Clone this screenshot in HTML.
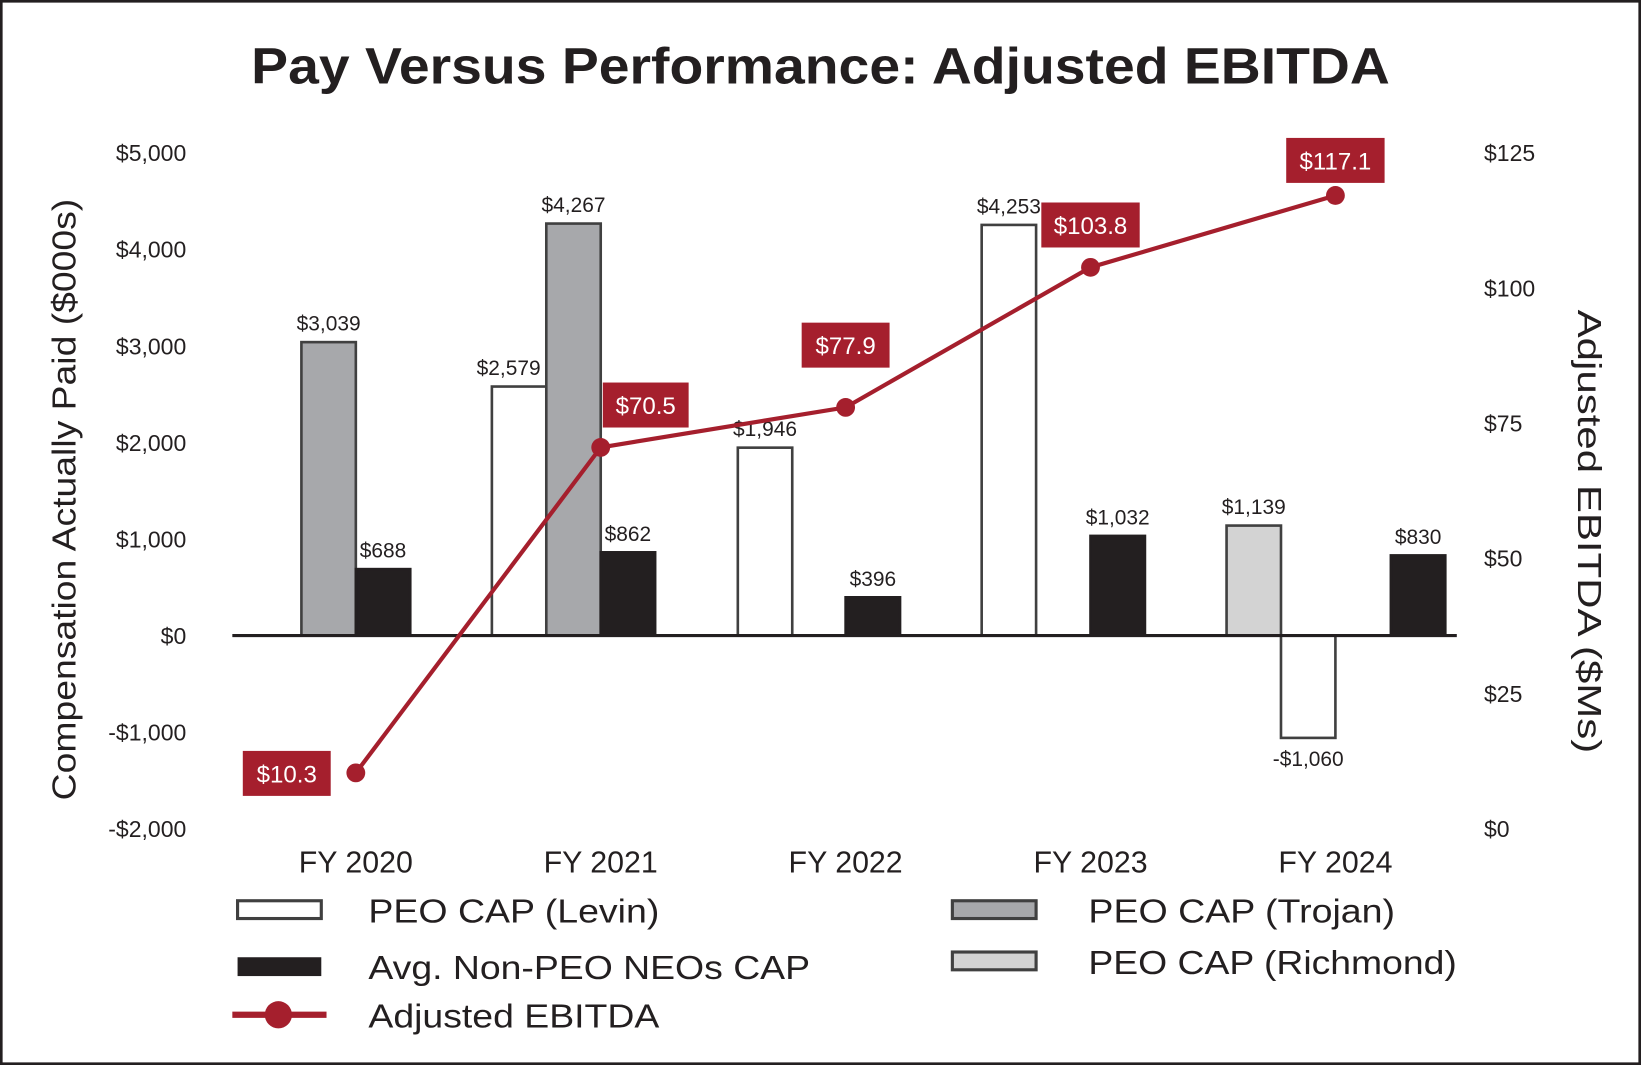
<!DOCTYPE html>
<html><head><meta charset="utf-8"><style>
html,body{margin:0;padding:0;background:#fff;}
svg{display:block;font-family:"Liberation Sans",Arial,sans-serif;}
</style></head><body>
<svg id="chart" width="1641" height="1065" viewBox="0 0 1568 1018" preserveAspectRatio="none" xmlns="http://www.w3.org/2000/svg">
<rect x="1" y="1" width="1566" height="1016" fill="#fff" stroke="#231f20" stroke-width="3"/>
<text x="240" y="80" textLength="1088" lengthAdjust="spacingAndGlyphs" font-size="49" font-weight="bold" fill="#231f20">Pay Versus Performance: Adjusted EBITDA</text>
<text transform="translate(72,765) rotate(-90)" textLength="575" lengthAdjust="spacingAndGlyphs" font-size="32" fill="#231f20">Compensation Actually Paid ($000s)</text>
<text transform="translate(1508,296) rotate(90)" textLength="424" lengthAdjust="spacingAndGlyphs" font-size="32" fill="#231f20">Adjusted EBITDA ($Ms)</text>
<g id="plot"></g>
<g id="legend">
<rect x="227" y="861" width="80" height="17" fill="#fff" stroke="#404040" stroke-width="3"/>
<text x="352" y="882" textLength="278" lengthAdjust="spacingAndGlyphs" font-size="32" fill="#231f20">PEO CAP (Levin)</text>
<rect x="227" y="915" width="80" height="18" fill="#231f20"/>
<text x="352" y="936" textLength="422" lengthAdjust="spacingAndGlyphs" font-size="32" fill="#231f20">Avg. Non-PEO NEOs CAP</text>
<line x1="222" y1="970" x2="312" y2="970" stroke="#a51f2d" stroke-width="6"/>
<circle cx="266" cy="970" r="13" fill="#a51f2d"/>
<text x="352" y="982" textLength="278" lengthAdjust="spacingAndGlyphs" font-size="32" fill="#231f20">Adjusted EBITDA</text>
<rect x="910" y="861" width="80" height="17" fill="#a7a8ab" stroke="#404040" stroke-width="3"/>
<text x="1040" y="882" textLength="293" lengthAdjust="spacingAndGlyphs" font-size="32" fill="#231f20">PEO CAP (Trojan)</text>
<rect x="910" y="910" width="80" height="17" fill="#d3d3d3" stroke="#404040" stroke-width="3"/>
<text x="1040" y="931" textLength="352" lengthAdjust="spacingAndGlyphs" font-size="32" fill="#231f20">PEO CAP (Richmond)</text>
</g>
</svg>
<script>
const categories = ["FY 2020","FY 2021","FY 2022","FY 2023","FY 2024"];
const levin = [null, 2579, 1946, 4253, -1060];
const trojan = [3039, 4267, null, null, null];
const richmond = [null, null, null, null, 1139];
const nonPeo = [688, 862, 396, 1032, 830];
const ebitda = [10.3, 70.5, 77.9, 103.8, 117.1];
const leftTicks = [5000,4000,3000,2000,1000,0,-1000,-2000];
const leftTickLabels = ["$5,000","$4,000","$3,000","$2,000","$1,000","$0","-$1,000","-$2,000"];
const rightTicks = [125,100,75,50,25,0];
const rightTickLabels = ["$125","$100","$75","$50","$25","$0"];

const NS="http://www.w3.org/2000/svg";
const plot=document.getElementById('plot');
const yL=v=>607.5-v*0.09229;
const yR=v=>792-v*(646/125);
const xC=i=>340+i*234;
function mk(t,a){const e=document.createElementNS(NS,t);for(const k in a)e.setAttribute(k,a[k]);plot.appendChild(e);return e;}
function fmt(v){const s='$'+Math.abs(v).toLocaleString('en-US');return v<0?'-'+s:s;}

leftTicks.forEach((t,i)=>{const e=mk('text',{x:178,y:yL(t)+8,'text-anchor':'end','font-size':22,fill:'#231f20'});e.textContent=leftTickLabels[i];

});
rightTicks.forEach((t,i)=>{const e=mk('text',{x:1418,y:yR(t)+8,'font-size':22,fill:'#231f20'});e.textContent=rightTickLabels[i];

});
categories.forEach((c,i)=>{const e=mk('text',{x:xC(i),y:834,'text-anchor':'middle','font-size':29,fill:'#231f20'});e.textContent=c;

});

// layout slot offsets (px relative to group centre) per category
const slotLevin=[0,-104,-103,-104,-52], slotTrojan=[-52,-52,0,0,0], slotRich=[0,0,0,0,-104], slotNon=[0,0,0,0,53];
const W=52;
function bar(vals,slots,fill,name){
 vals.forEach((v,i)=>{ if(v==null)return;
  const x=xC(i)+slots[i], y0=yL(0), y1=yL(v);
  const r=mk('rect',{x:x,y:Math.min(y0,y1),width:W,height:Math.abs(y1-y0),fill:fill,stroke:fill==='#231f20'?'#231f20':'#404040','stroke-width':2.5});
  
  
  const t=mk('text',{x:x+W/2-(name==='bar-levin'&&i===1?10:0),y:v>=0?y1-11:y1+27,'text-anchor':'middle','font-size':20,fill:'#231f20'});
  t.textContent=fmt(v);
  
  
 });
}
bar(levin,slotLevin,'#fff','bar-levin');
bar(trojan,slotTrojan,'#a7a8ab','bar-trojan');
bar(richmond,slotRich,'#d3d3d3','bar-richmond');
bar(nonPeo,slotNon,'#231f20','bar-non-peo');

const zl=mk('line',{x1:222,y1:yL(0),x2:1392,y2:yL(0),stroke:'#231f20','stroke-width':3});



const pts=ebitda.map((v,i)=>xC(i)+','+yR(v)).join(' ');
const pl=mk('polyline',{points:pts,fill:'none',stroke:'#a51f2d','stroke-width':4});


const lblOff=[[-108,0],[2,-41],[-42,-60],[-47,-41],[-47,-34]];
const lblW=[84,82,84,94,94];
ebitda.forEach((v,i)=>{
 const cx=xC(i),cy=yR(v);
 const c=mk('circle',{cx:cx,cy:cy,r:9,fill:'#a51f2d'});
 
 
 const bx=cx+lblOff[i][0], by=cy+lblOff[i][1]-21;
 const b=mk('rect',{x:bx,y:by,width:lblW[i],height:43,fill:'#a51f2d'});
 
 
 const t=mk('text',{x:bx+lblW[i]/2,y:by+30,'text-anchor':'middle','font-size':23,fill:'#fff'});
 t.textContent='$'+v.toFixed(1);
 
 
});
</script>
</body></html>
